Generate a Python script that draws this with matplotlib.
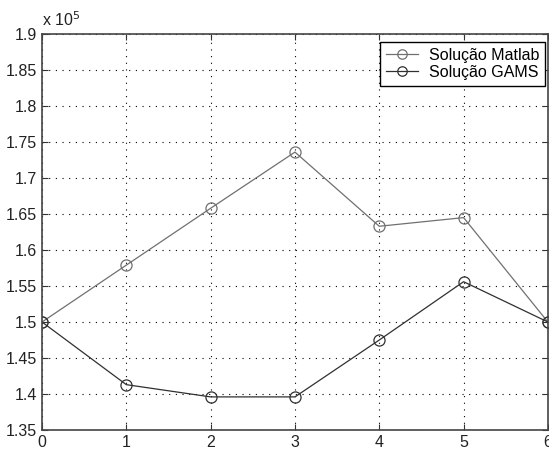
import matplotlib
matplotlib.use("Agg")
import matplotlib.pyplot as plt
from matplotlib.ticker import FuncFormatter, MultipleLocator

plt.rcParams['font.family'] = ['Liberation Sans', 'DejaVu Sans']

x = [0, 1, 2, 3, 4, 5, 6]
matlab = [150000, 157900, 165800, 173600, 163300, 164500, 150000]
gams = [150000, 141300, 139600, 139600, 147500, 155600, 150000]
labels = ["Solução Matlab", "Solução GAMS"]

fig = plt.figure(figsize=(5.49, 4.5), dpi=100)
ax = fig.add_axes([0.0765, 0.0444, 0.9215, 0.88])

ax.plot(x, matlab, color='#707070', lw=0.9, marker='o', ms=8, mfc='none',
        mec='#707070', mew=0.9, label=labels[0])
ax.plot(x, gams, color='#303030', lw=0.9, marker='o', ms=8, mfc='none',
        mec='#303030', mew=0.9, label=labels[1])

ax.set_xlim(0, 6)
ax.set_ylim(135000, 190000)
ax.xaxis.set_major_locator(MultipleLocator(1))
ax.yaxis.set_major_locator(MultipleLocator(5000))
ax.yaxis.set_major_formatter(FuncFormatter(lambda v, p: "%g" % round(v / 1e5, 4)))
ax.grid(True, color='black', linestyle=(0, (1, 5)), linewidth=0.8)
ax.tick_params(direction='in', top=True, right=True, labelsize=11.5, length=4,
               colors='#333333', labelcolor='#222222')
for s in ax.spines.values():
    s.set_color('#444444')
    s.set_linewidth(1.2)

ax.text(0.0, 1.012, "x 10$^5$", transform=ax.transAxes, fontsize=11.5,
        color='#222222', ha='left', va='bottom')

leg = ax.legend(loc='upper right', bbox_to_anchor=(0.994, 0.98), borderaxespad=0,
                fancybox=False, edgecolor='black', framealpha=1, fontsize=11.5,
                borderpad=0.35, handlelength=2.0, labelspacing=0.15,
                handletextpad=0.7, markerscale=0.85)
leg.get_frame().set_linewidth(1.0)

fig.savefig("out.png", dpi=100)
